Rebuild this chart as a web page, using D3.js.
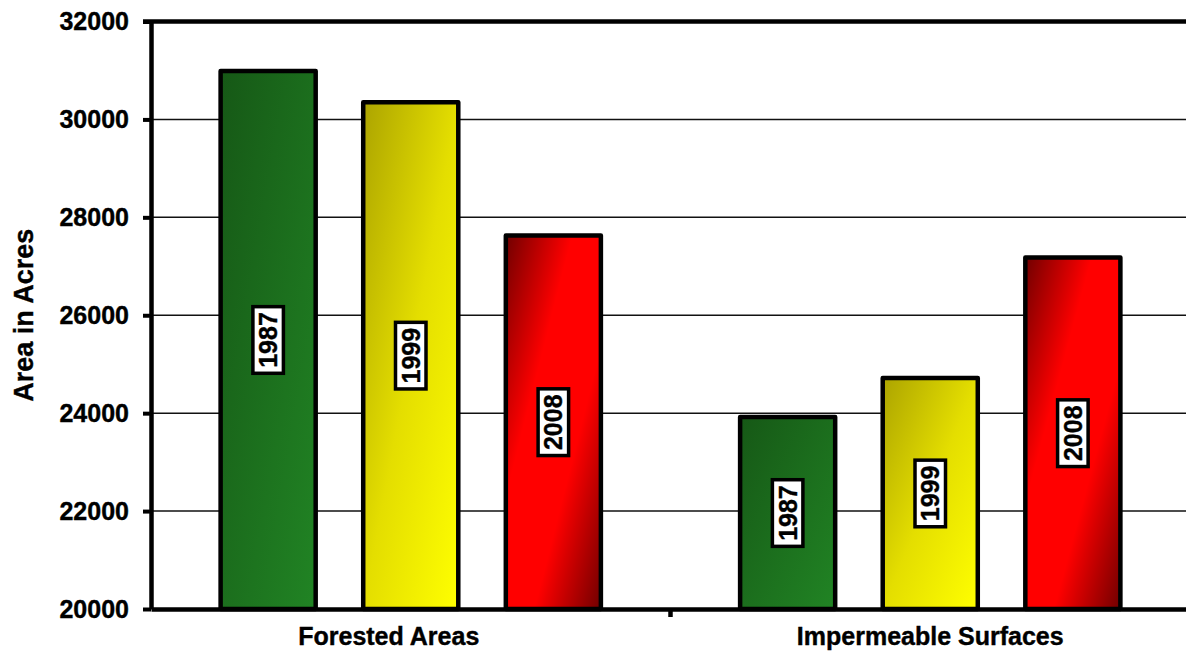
<!DOCTYPE html>
<html>
<head>
<meta charset="utf-8">
<script src="https://cdn.jsdelivr.net/npm/d3@7"></script>
<style>
  html, body { margin: 0; padding: 0; background: #fff; }
  svg { display: block; font-family: "Liberation Sans", Arial, sans-serif; }
</style>
</head>
<body>
<svg id="chart" width="1186" height="654"></svg>
<script>
// ---- data ----
const categories = ["Forested Areas", "Impermeable Surfaces"];
const years = ["1987", "1999", "2008"];
const forestedValues = [30990, 30350, 27630];
const impermeableValues = [23920, 24720, 27180];
const yTicks = [20000, 22000, 24000, 26000, 28000, 30000, 32000];
const yTitle = "Area in Acres";

(function () {
const seriesByCategory = [forestedValues, impermeableValues];
const rows = [];
categories.forEach((c, ci) => years.forEach((yr, yi) => rows.push({ category: c, year: yr, value: seriesByCategory[ci][yi] })));

// ---- layout ----
const W = 1186, H = 654;
const mLeft = 151, mRight = 1190, mTop = 21.5, mBottom = 609;

const svg = d3.select("#chart");

const y = d3.scaleLinear().domain([20000, 32000]).range([mBottom, mTop]);
const x0 = d3.scaleBand().domain(categories).range([mLeft, mRight]).padding(0);
const bw = x0.bandwidth();
const x1 = d3.scaleBand().domain(years).range([bw * 0.134, bw * 0.866]).paddingInner(1 / 3).paddingOuter(0);

// gradients
const defs = svg.append("defs");
const gradStops = {
  "1987": [[0, "#165816"], [1, "#218424"]],
  "1999": [[0, "#aca400"], [0.5, "#e4de00"], [1, "#ffff00"]],
  "2008": [[0, "#700000"], [0.35, "#ff0000"], [0.65, "#ff0000"], [1, "#700000"]]
};
years.forEach(yr => {
  const g = defs.append("linearGradient").attr("id", "g" + yr)
    .attr("x1", 0).attr("y1", 0).attr("x2", 1).attr("y2", 1);
  gradStops[yr].forEach(s => g.append("stop").attr("offset", s[0]).attr("stop-color", s[1]));
});

// gridlines
svg.append("g")
  .selectAll("line")
  .data(yTicks.filter(t => t !== 20000 && t !== 32000))
  .join("line")
  .attr("x1", mLeft).attr("x2", W)
  .attr("y1", d => y(d)).attr("y2", d => y(d))
  .attr("stroke", "#111").attr("stroke-width", 1.5);

// bars
svg.append("g").selectAll("rect")
  .data(rows)
  .join("rect")
  .attr("x", d => x0(d.category) + x1(d.year))
  .attr("y", d => y(d.value))
  .attr("width", x1.bandwidth())
  .attr("height", d => y(20000) - y(d.value))
  .attr("fill", d => "url(#g" + d.year + ")")
  .attr("stroke", "#000")
  .attr("stroke-width", 4.5)
  .attr("stroke-linejoin", "round");

// year labels in boxes
const fs = 25;
const lab = svg.append("g").selectAll("g")
  .data(rows)
  .join("g")
  .attr("transform", d => `translate(${x0(d.category) + x1(d.year) + x1.bandwidth() / 2},${(y(d.value) + y(20000)) / 2}) rotate(-90)`);
lab.append("rect").attr("class", "box");
lab.append("text")
  .attr("text-anchor", "middle")
  .attr("dy", "0.36em")
  .attr("font-size", fs)
  .attr("font-weight", "bold")
  .attr("fill", "#000")
  .attr("stroke", "#000").attr("stroke-width", 0.4)
  .text(d => d.year);
lab.each(function () {
  const t = d3.select(this).select("text").node().getBBox();
  const padL = 5.5, capH = fs * 0.716, padC = 6.3;
  d3.select(this).select("rect")
    .attr("x", t.x - padL).attr("width", t.width + padL * 2)
    .attr("y", -capH / 2 - padC).attr("height", capH + padC * 2)
    .attr("fill", "#fff").attr("stroke", "#000").attr("stroke-width", 3.5);
});

// top border line
svg.append("line")
  .attr("x1", mLeft - 8).attr("x2", W)
  .attr("y1", y(32000)).attr("y2", y(32000))
  .attr("stroke", "#000").attr("stroke-width", 4.5);

// y axis
const yAxis = svg.append("g")
  .attr("transform", `translate(${mLeft},0)`)
  .call(d3.axisLeft(y).tickValues(yTicks).tickFormat(d3.format("d")).tickSize(8).tickPadding(14).tickSizeOuter(0));
yAxis.select(".domain").attr("stroke", "#000").attr("stroke-width", 4.5);
yAxis.selectAll(".tick line").attr("stroke", "#000").attr("stroke-width", 4);
yAxis.selectAll(".tick text")
  .attr("font-size", 25).attr("font-weight", "bold").attr("fill", "#000")
  .attr("stroke", "#000").attr("stroke-width", 0.4)
  .attr("font-family", "'Liberation Sans', Arial, sans-serif");

// x axis
const xAxis = svg.append("g")
  .attr("transform", `translate(0,${mBottom})`)
  .call(d3.axisBottom(x0).tickSize(0).tickPadding(18).tickSizeOuter(0));
xAxis.select(".domain").attr("stroke", "#000").attr("stroke-width", 4.5);
xAxis.selectAll(".tick text")
  .attr("font-size", 25).attr("font-weight", "bold").attr("fill", "#000")
  .attr("stroke", "#000").attr("stroke-width", 0.4)
  .attr("dx", (d, i) => i === 0 ? -22 : 0)
  .attr("font-family", "'Liberation Sans', Arial, sans-serif");
// category divider tick
xAxis.append("line")
  .attr("x1", x0(categories[1])).attr("x2", x0(categories[1]))
  .attr("y1", 0).attr("y2", 8)
  .attr("stroke", "#000").attr("stroke-width", 4.5);

// y title
svg.append("text")
  .attr("transform", `translate(33,${(mTop + mBottom) / 2}) rotate(-90)`)
  .attr("text-anchor", "middle")
  .attr("font-size", 27).attr("font-weight", "bold").attr("fill", "#000")
  .attr("stroke", "#000").attr("stroke-width", 0.4)
  .text(yTitle);
})();
</script>
</body>
</html>
